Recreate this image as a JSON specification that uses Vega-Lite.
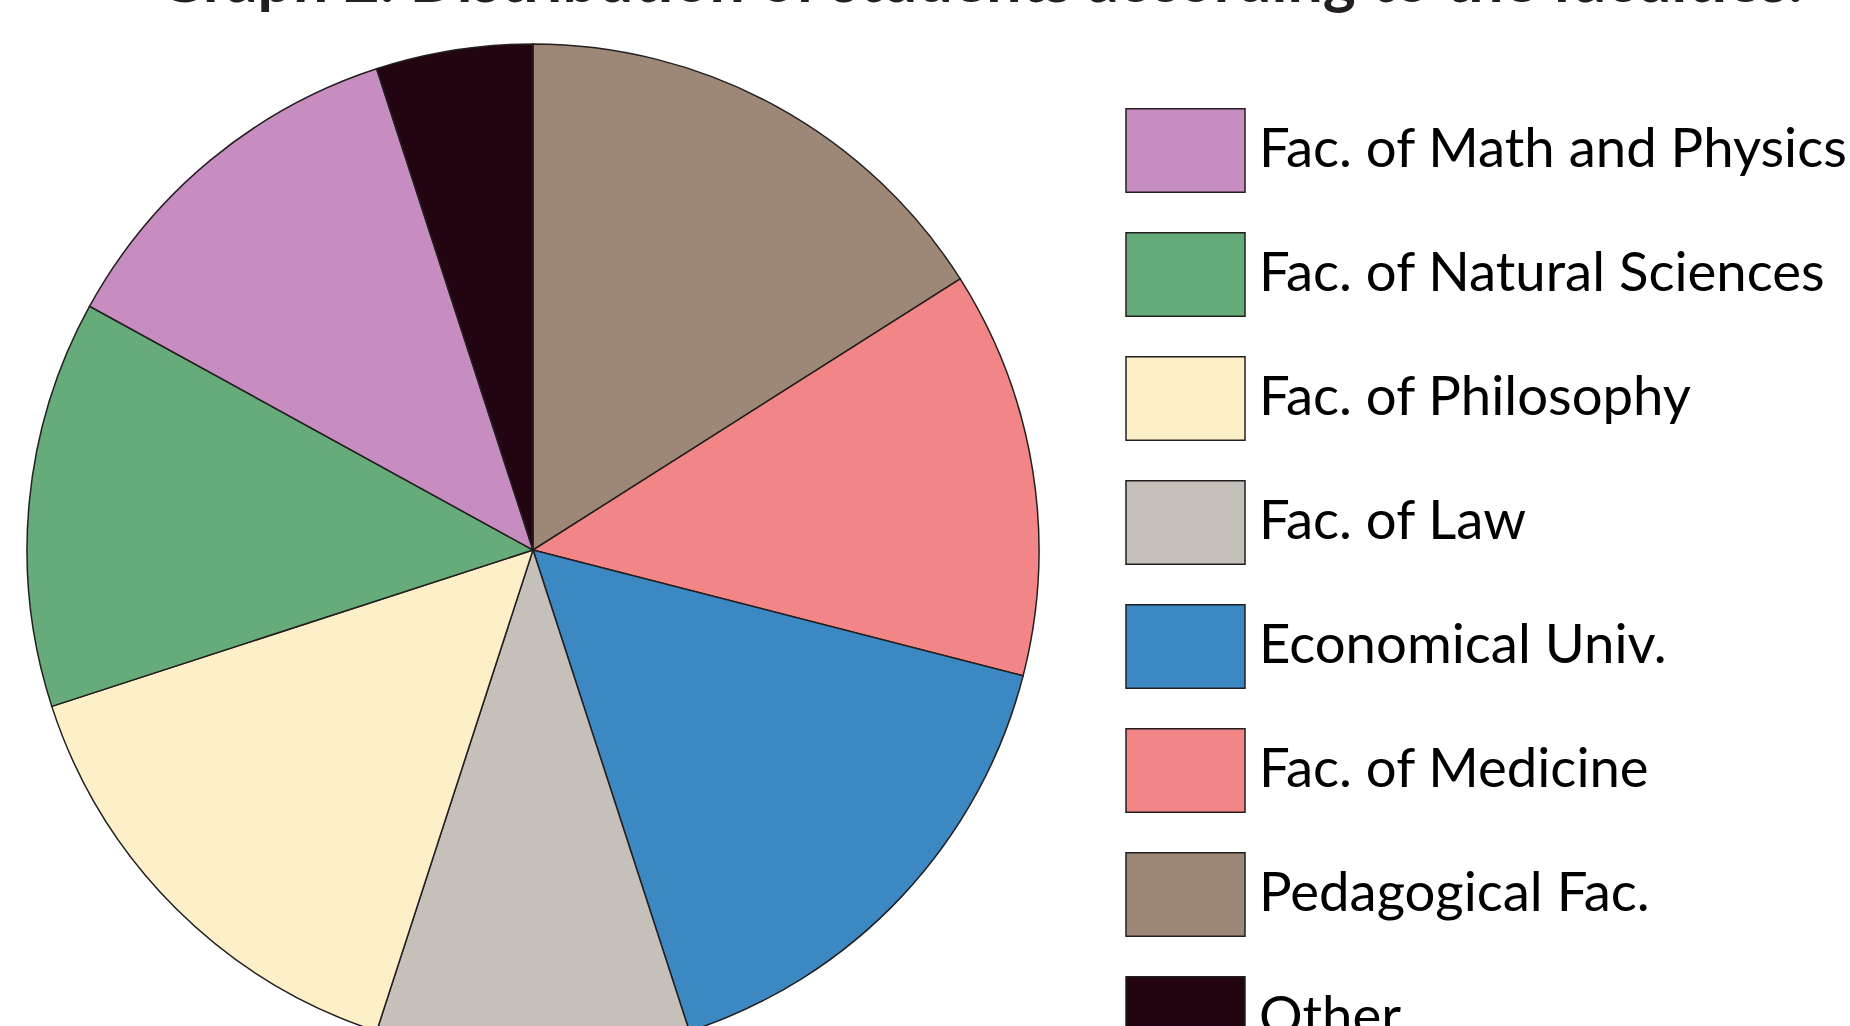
{
  "$schema": "https://vega.github.io/schema/vega-lite/v6.json",
  "autosize": {"type": "none"},
  "width": 1066,
  "height": 1100,
  "padding": {"left": 0, "top": 0, "right": 784, "bottom": -74},
  "background": "#ffffff",
  "title": {
    "text": "Graph 2. Distribution of students according to the faculties.",
    "anchor": "start",
    "dx": 158,
    "offset": -64,
    "baseline": "alphabetic",
    "font": "Lato",
    "fontWeight": "bold",
    "fontSize": 62.5,
    "color": "#231F20"
  },
  "data": {
    "values": [
      {"faculty": "Pedagogical Fac.", "share": 16, "rank": 1},
      {"faculty": "Fac. of Medicine", "share": 13, "rank": 2},
      {"faculty": "Economical Univ.", "share": 16, "rank": 3},
      {"faculty": "Fac. of Law", "share": 10, "rank": 4},
      {"faculty": "Fac. of Philosophy", "share": 15, "rank": 5},
      {"faculty": "Fac. of Natural Sciences", "share": 13, "rank": 6},
      {"faculty": "Fac. of Math and Physics", "share": 12, "rank": 7},
      {"faculty": "Other", "share": 5, "rank": 8}
    ]
  },
  "mark": {"type": "arc", "radius": 506, "stroke": "#231F20", "strokeWidth": 1.5},
  "encoding": {
    "theta": {"field": "share", "type": "quantitative", "stack": true},
    "order": {"field": "rank", "type": "quantitative", "sort": "ascending"},
    "color": {
      "field": "faculty",
      "type": "nominal",
      "scale": {
        "domain": ["Fac. of Math and Physics", "Fac. of Natural Sciences", "Fac. of Philosophy", "Fac. of Law", "Economical Univ.", "Fac. of Medicine", "Pedagogical Fac.", "Other"],
        "range": ["#C78DC0", "#65AC7A", "#FDEFC8", "#C5C1BA", "#3B88C3", "#F28585", "#9D8878", "#230511"]
      },
      "legend": {
        "orient": "none",
        "legendX": 1125,
        "legendY": 90,
        "title": null,
        "padding": 0,
        "symbolType": "M-1,-0.7H1V0.7H-1Z",
        "symbolSize": 14161,
        "symbolStrokeColor": "#231F20",
        "symbolStrokeWidth": 1.5,
        "symbolOpacity": 1,
        "labelFont": "Lato",
        "labelFontSize": 54.5,
        "labelColor": "#000000",
        "labelOffset": 13,
        "labelLimit": 800,
        "rowPadding": 18
      }
    }
  }
}
